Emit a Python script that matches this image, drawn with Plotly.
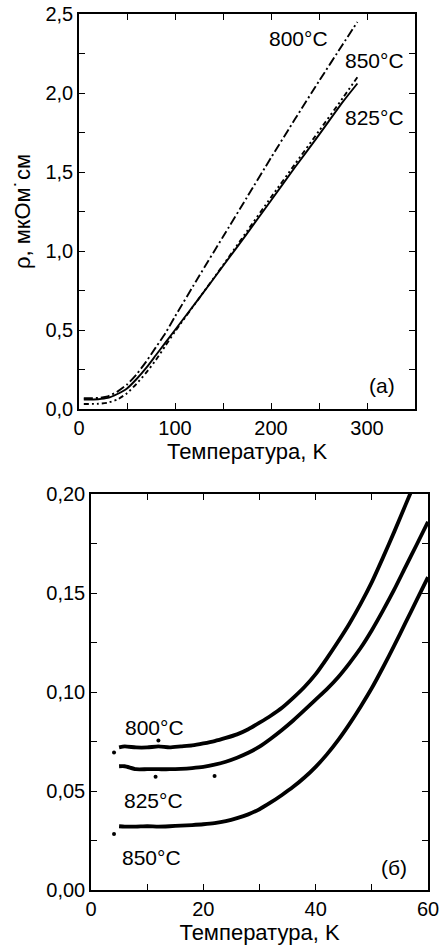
import plotly.graph_objects as go

# ---------- panel (a): full temperature range ----------
T_a = [5, 20, 30, 40, 50, 60, 70, 80, 90, 100, 125, 150, 175, 200, 225, 250, 275, 290]
rho_800_a = [0.068, 0.070, 0.080, 0.110, 0.155, 0.220, 0.300, 0.390, 0.480, 0.585,
             0.840, 1.090, 1.340, 1.590, 1.835, 2.075, 2.310, 2.450]
rho_825_a = [0.060, 0.062, 0.070, 0.095, 0.130, 0.190, 0.260, 0.340, 0.420, 0.500,
             0.700, 0.905, 1.110, 1.320, 1.530, 1.735, 1.945, 2.060]
rho_850_a = [0.032, 0.033, 0.040, 0.060, 0.100, 0.160, 0.230, 0.310, 0.400, 0.490,
             0.700, 0.910, 1.125, 1.340, 1.550, 1.760, 1.970, 2.100]

# ---------- panel (б): low temperature range ----------
T_b = [5, 6, 8, 10, 12, 14, 16, 18, 20, 22, 24, 26, 28, 30, 32, 34, 36, 38, 40,
       42, 44, 46, 48, 50, 52, 54, 56, 58, 60]
rho_800_b = [0.072, 0.0725, 0.072, 0.072, 0.0725, 0.072, 0.0725, 0.073, 0.074, 0.0752,
             0.0768, 0.0786, 0.0812, 0.0845, 0.088, 0.092, 0.097, 0.1025, 0.109,
             0.117, 0.1255, 0.1345, 0.1445, 0.1555, 0.168, 0.181, 0.1945, 0.208, 0.222]
rho_825_b = [0.0625, 0.0625, 0.061, 0.061, 0.061, 0.061, 0.0612, 0.0616, 0.0622, 0.0633,
             0.0648, 0.0668, 0.0693, 0.0724, 0.0764, 0.0808, 0.0856, 0.0908, 0.0962,
             0.1015, 0.1075, 0.1145, 0.1222, 0.1312, 0.1412, 0.1518, 0.1632, 0.1745, 0.186]
rho_850_b = [0.0322, 0.032, 0.032, 0.0322, 0.032, 0.0322, 0.0325, 0.0328, 0.0332, 0.0338,
             0.0348, 0.0363, 0.0382, 0.0408, 0.0442, 0.048, 0.0521, 0.0568, 0.0622,
             0.0685, 0.0757, 0.0838, 0.0926, 0.102, 0.1125, 0.1235, 0.135, 0.1465, 0.158]
# isolated points
T_iso = [4.1, 4.1, 11.5, 22.0, 12.0]
rho_iso = [0.0694, 0.0283, 0.0572, 0.0576, 0.0755]

FONT = "Liberation Sans, Arial, sans-serif"
FS_TICK = 20
FS_TITLE = 22
FS_ANN = 21

fig = go.Figure()

styles_a = ["9px,3px,2px,3px", "solid", "5px,3px,2px,3px,2px,3px"]
for y, dash in zip([rho_800_a, rho_825_a, rho_850_a], styles_a):
    fig.add_trace(go.Scatter(x=T_a, y=y, mode="lines", xaxis="x", yaxis="y",
                             line=dict(color="black", width=1.9, dash=dash, shape="spline", smoothing=0.6),
                             showlegend=False))

for y in [rho_800_b, rho_825_b, rho_850_b]:
    fig.add_trace(go.Scatter(x=T_b, y=y, mode="lines", xaxis="x2", yaxis="y2",
                             line=dict(color="black", width=3.8, shape="spline", smoothing=0.6),
                             showlegend=False))
fig.add_trace(go.Scatter(x=T_iso, y=rho_iso, mode="markers", xaxis="x2", yaxis="y2",
                         marker=dict(color="black", size=4), showlegend=False))

W, H = 448, 949
axis_common = dict(showline=True, linecolor="black", linewidth=1.5, mirror="allticks",
                   ticks="inside", ticklen=6, tickwidth=1.3, tickcolor="black",
                   showgrid=False, zeroline=False, automargin=False,
                   tickfont=dict(family=FONT, size=FS_TICK, color="black"))

fig.update_layout(
    width=W, height=H,
    margin=dict(l=0, r=0, t=0, b=0),
    paper_bgcolor="white", plot_bgcolor="white",
    font=dict(family=FONT, size=FS_TICK, color="black"),
    xaxis=dict(domain=[79 / W, 415 / W], anchor="y", range=[0, 350],
               tickvals=list(range(0, 351, 50)),
               ticktext=["0", "", "100", "", "200", "", "300", ""],
               title=dict(text="Температура, K", font=dict(family=FONT, size=FS_TITLE), standoff=2),
               **axis_common),
    yaxis=dict(domain=[1 - 409 / H, 1 - 14 / H], anchor="x", range=[0, 2.5],
               tickvals=[i * 0.25 for i in range(11)],
               ticktext=["0,0", "", "0,5", "", "1,0", "", "1,5", "", "2,0", "", "2,5"],
               title=dict(text="ρ, мкОм˙см", font=dict(family=FONT, size=FS_TITLE), standoff=9),
               **axis_common),
    xaxis2=dict(domain=[91 / W, 428 / W], anchor="y2", range=[0, 60],
                tickvals=list(range(0, 61, 10)),
                ticktext=["0", "", "20", "", "40", "", "60"],
                title=dict(text="Температура, K", font=dict(family=FONT, size=FS_TITLE), standoff=2),
                **axis_common),
    yaxis2=dict(domain=[1 - 890 / H, 1 - 494 / H], anchor="x2", range=[0, 0.2],
                tickvals=[i * 0.025 for i in range(9)],
                ticktext=["0,00", "", "0,05", "", "0,10", "", "0,15", "", "0,20"],
                **axis_common),
)

ann = [
    ("800°C", 229, 2.348, "x", "y"),
    ("850°C", 308, 2.203, "x", "y"),
    ("825°C", 308, 1.842, "x", "y"),
    ("(a)", 315.6, 0.146, "x", "y"),
    ("800°C", 11.3, 0.0823, "x2", "y2"),
    ("825°C", 11.2, 0.0452, "x2", "y2"),
    ("850°C", 10.7, 0.0164, "x2", "y2"),
    ("(б)", 53.9, 0.0116, "x2", "y2"),
]
for text, x, y, xr, yr in ann:
    fig.add_annotation(text=text, x=x, y=y, xref=xr, yref=yr, showarrow=False,
                       font=dict(family=FONT, size=FS_ANN, color="black"),
                       xanchor="center", yanchor="middle")

fig.write_html("out.html", config={"displayModeBar": False},
               post_script="document.body.style.margin='0';document.body.style.overflow='hidden';")
